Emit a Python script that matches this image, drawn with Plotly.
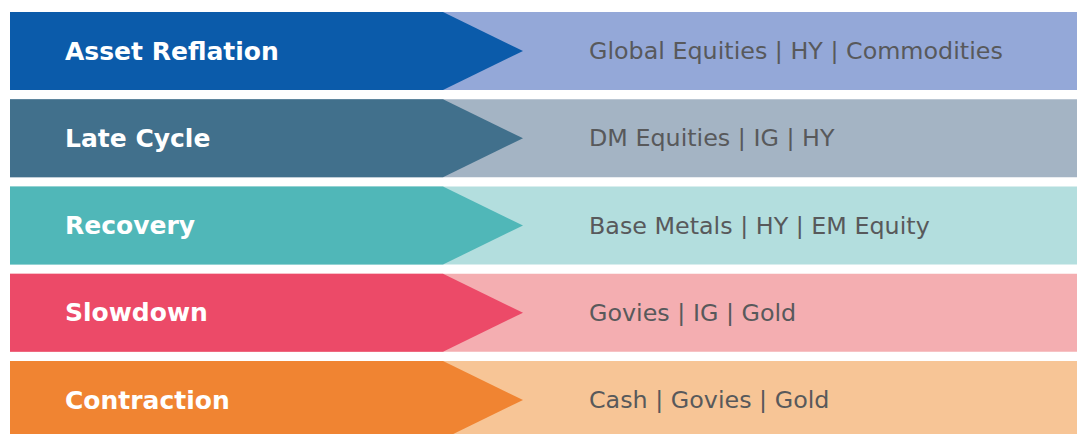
import plotly.graph_objects as go

# ---- data ----
phases = ["Asset Reflation", "Late Cycle", "Recovery", "Slowdown", "Contraction"]
assets = [
    "Global Equities | HY | Commodities",
    "DM Equities | IG | HY",
    "Base Metals | HY | EM Equity",
    "Govies | IG | Gold",
    "Cash | Govies | Gold",
]
dark_colors = ["#0B5BAA", "#41708C", "#50B7B8", "#EC4A68", "#F08432"]
light_colors = ["#94A8D8", "#A4B4C4", "#B3DEDE", "#F4AEB1", "#F7C596"]

# ---- geometry (axis units = page pixels) ----
PAGE_W, PAGE_H = 1085, 434
OFF = 8  # page body margin
W, H = PAGE_W - OFF, PAGE_H - OFF
top0, pitch, band_h = 12, 87.25, 78
x_left, x_body, x_tip, x_right = 10, 443, 523, 1100
x_label, x_assets = 63, 587

fig = go.Figure()
shapes = []
annotations = []
for i, (ph, asg, dc, lc) in enumerate(zip(phases, assets, dark_colors, light_colors)):
    y0 = top0 + i * pitch
    y1 = y0 + band_h
    yc = (y0 + y1) / 2
    shapes.append(dict(type="rect", xref="x", yref="y", x0=x_left, x1=x_right, y0=y0, y1=y1,
                       fillcolor=lc, line=dict(width=0), layer="below"))
    path = f"M {x_left},{y0} L {x_body},{y0} L {x_tip},{yc} L {x_body},{y1} L {x_left},{y1} Z"
    shapes.append(dict(type="path", xref="x", yref="y", path=path,
                       fillcolor=dc, line=dict(width=0), layer="below"))
    annotations.append(dict(x=x_label, y=yc, xref="x", yref="y", text=ph, showarrow=False,
                            xanchor="left", yanchor="middle",
                            font=dict(family="DejaVu Sans", size=25, color="white", weight="bold")))
    annotations.append(dict(x=x_assets, y=yc, xref="x", yref="y", text=asg, showarrow=False,
                            xanchor="left", yanchor="middle",
                            font=dict(family="DejaVu Sans", size=23.8, color="#58595B")))

fig.update_layout(
    width=W, height=H,
    margin=dict(l=0, r=0, t=0, b=0),
    paper_bgcolor="white", plot_bgcolor="white",
    xaxis=dict(range=[OFF, OFF + W], visible=False, fixedrange=True),
    yaxis=dict(range=[OFF + H, OFF], visible=False, fixedrange=True),
    shapes=shapes, annotations=annotations,
    showlegend=False,
)
fig.write_html("out.html")
